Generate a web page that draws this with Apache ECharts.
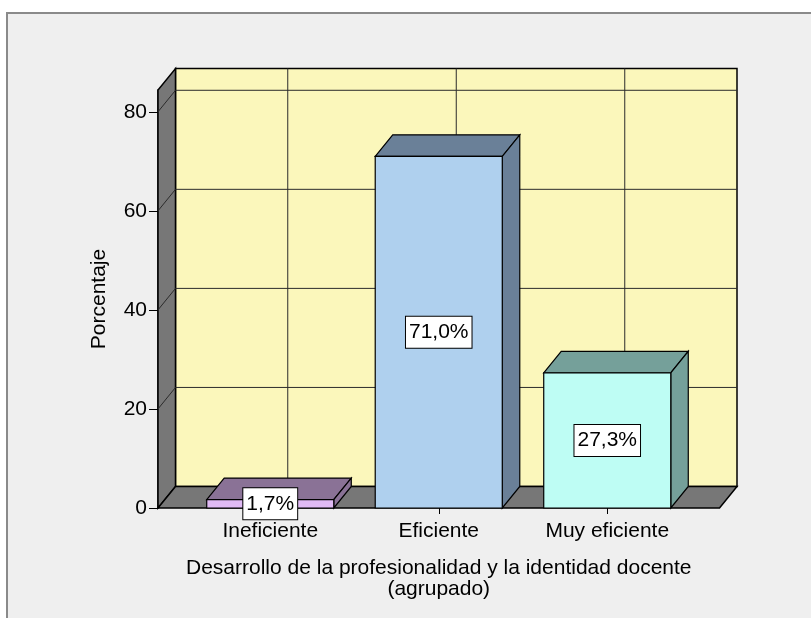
<!DOCTYPE html>
<html>
<head>
<meta charset="utf-8">
<script src="https://cdn.jsdelivr.net/npm/echarts@6/dist/echarts.min.js"></script>
<style>
  html, body { margin: 0; padding: 0; background: #fff; }
  #chart { width: 811px; height: 618px; }
</style>
</head>
<body>
<div id="chart"></div>
<script>
// data
const categories = ['Ineficiente', 'Eficiente', 'Muy eficiente'];
const percentages = [1.7, 71.0, 27.3];
const yTicks = [0, 20, 40, 60, 80];
const yMax = 84.4;

// look
const frontColors = ['#e0baf4', '#afd0ee', '#befdf4'];
const shadeColors = ['#8a7296', '#6a8098', '#75a09a'];
const FONT = '21px "Liberation Sans", Arial, sans-serif';
const DX = 17.5, DY = 21.5;   // 3d depth offset
const WALL_PAD = 28;          // front plane reaches past the category band

const fmt = v => v.toFixed(1).replace('.', ',') + '%';

function renderFrame(params, api) {
  const cs = params.coordSys;
  const fl = cs.x - WALL_PAD, fr = cs.x + cs.width + WALL_PAD;
  const y0 = api.coord([0, 0])[1];
  const yt = cs.y;
  const edge = { stroke: '#000', lineWidth: 1.5 };
  const grid = { stroke: '#2b2b2b', lineWidth: 1 };
  const kids = [
    { type: 'rect', shape: { x: fl + DX, y: yt - DY, width: fr - fl, height: y0 - yt },
      style: Object.assign({ fill: '#fbf7bb' }, edge) },
    { type: 'polygon', shape: { points: [[fl, y0], [fl + DX, y0 - DY], [fl + DX, yt - DY], [fl, yt]] },
      style: Object.assign({ fill: '#777' }, edge) },
    { type: 'polygon', shape: { points: [[fl, y0], [fr, y0], [fr + DX, y0 - DY], [fl + DX, y0 - DY]] },
      style: Object.assign({ fill: '#777' }, edge) }
  ];
  yTicks.forEach(t => {
    if (t === 0) return;
    const y = api.coord([0, t])[1];
    kids.push({ type: 'line', shape: { x1: fl + DX, y1: y - DY, x2: fr + DX, y2: y - DY }, style: grid });
    kids.push({ type: 'line', shape: { x1: fl, y1: y, x2: fl + DX, y2: y - DY }, style: grid });
  });
  categories.forEach((c, i) => {
    const x = api.coord([i, 0])[0] + DX;
    kids.push({ type: 'line', shape: { x1: x, y1: yt - DY, x2: x, y2: y0 - DY }, style: grid });
  });
  return { type: 'group', children: kids };
}

function renderBar(params, api) {
  const i = api.value(0);
  const v = api.value(1);
  const base = api.coord([i, 0]);
  const top = api.coord([i, v]);
  const half = api.size([1, 0])[0] * 0.377;
  const x0 = base[0] - half, x1 = base[0] + half;
  const y0 = base[1], y1 = top[1];
  const edge = { stroke: '#000', lineWidth: 1.2 };
  return {
    type: 'group',
    children: [
      { type: 'polygon', shape: { points: [[x0, y1], [x0 + DX, y1 - DY], [x1 + DX, y1 - DY], [x1, y1]] },
        style: Object.assign({ fill: shadeColors[i] }, edge) },
      { type: 'polygon', shape: { points: [[x1, y0], [x1, y1], [x1 + DX, y1 - DY], [x1 + DX, y0 - DY]] },
        style: Object.assign({ fill: shadeColors[i] }, edge) },
      { type: 'rect', shape: { x: x0, y: y1, width: x1 - x0, height: y0 - y1 },
        style: Object.assign({ fill: frontColors[i] }, edge) },
      { type: 'text', x: base[0], y: (y0 + y1) / 2, z2: 10,
        style: { text: fmt(v), font: FONT, fill: '#000', align: 'center', verticalAlign: 'middle',
                 backgroundColor: '#fff', borderColor: '#000', borderWidth: 1, padding: [5, 3, 5, 3] } }
    ]
  };
}

const chart = echarts.init(document.getElementById('chart'));
chart.setOption({
  backgroundColor: '#fff',
  animation: false,
  textStyle: { fontFamily: '"Liberation Sans", Arial, sans-serif' },
  graphic: [{
    type: 'rect', z: -10, silent: true,
    shape: { x: 7, y: 13, width: 1000, height: 1000 },
    style: { fill: '#efefef', stroke: '#8a8a8a', lineWidth: 2 }
  }],
  grid: { left: 186, right: 119.5, top: 90, bottom: 110 },
  xAxis: {
    type: 'category',
    data: categories,
    axisLine: { show: false },
    axisTick: { show: true, alignWithLabel: true, length: 6, lineStyle: { color: '#000' } },
    axisLabel: { color: '#000', fontSize: 21, margin: 13 },
    name: 'Desarrollo de la profesionalidad y la identidad docente\n(agrupado)',
    nameLocation: 'middle',
    nameGap: 50,
    nameTextStyle: { color: '#000', fontSize: 21, lineHeight: 21 }
  },
  yAxis: {
    type: 'value',
    min: 0, max: yMax, interval: 20,
    offset: WALL_PAD,
    axisLine: { show: true, lineStyle: { color: '#000', width: 1.5 } },
    axisTick: { show: true, length: 9, customValues: yTicks, lineStyle: { color: '#000' } },
    axisLabel: { color: '#000', fontSize: 21, margin: 11, customValues: yTicks },
    splitLine: { show: false },
    name: 'Porcentaje',
    nameLocation: 'middle',
    nameGap: 48,
    nameTextStyle: { color: '#000', fontSize: 21 }
  },
  series: [
    { type: 'custom', z: 1, renderItem: renderFrame, data: [[0, 0]], silent: true },
    { type: 'custom', z: 2, renderItem: renderBar,
      data: percentages.map((v, i) => [i, v]) }
  ]
});
</script>
</body>
</html>
